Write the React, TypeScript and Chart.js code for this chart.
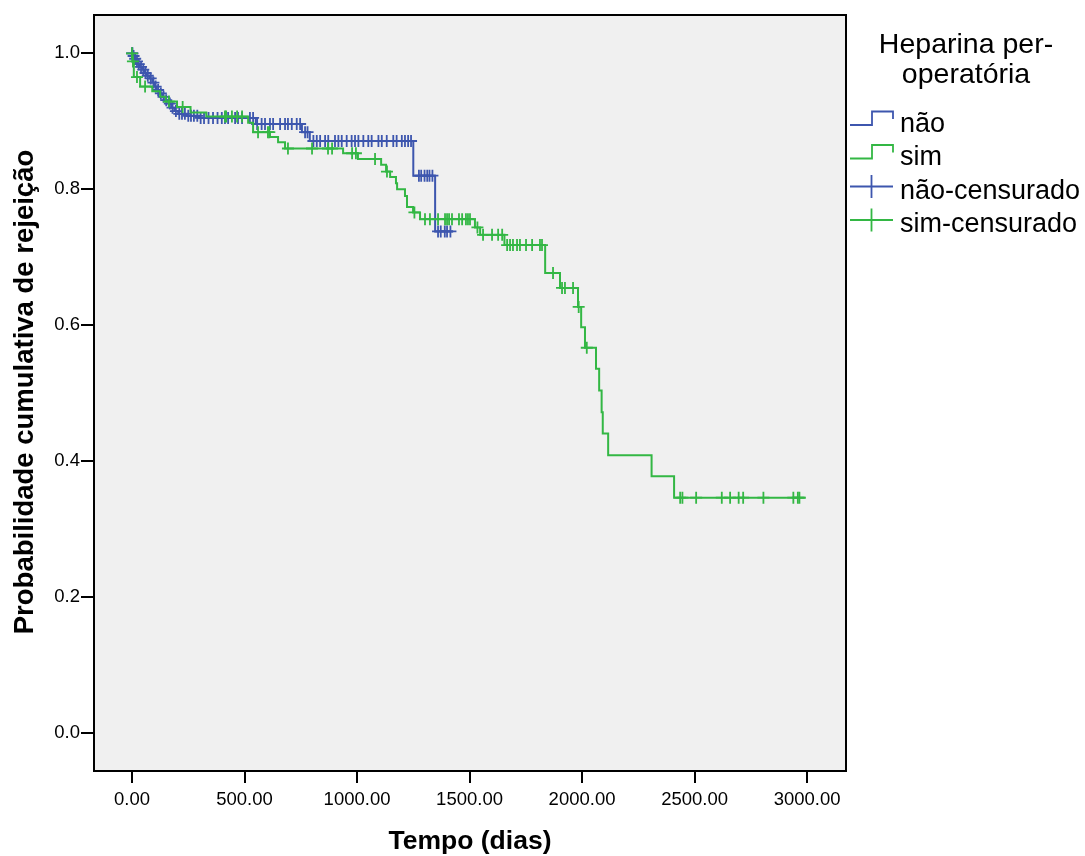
import React, { useEffect, useRef } from 'react';
import { Chart, registerables } from 'chart.js';

Chart.register(...registerables);

// ---- Data -------------------------------------------------------------
const xTicks = [0, 500, 1000, 1500, 2000, 2500, 3000];
const yTicks = [0, 0.2, 0.4, 0.6, 0.8, 1.0];

// "não" group: event times (days) and cumulative survival after each step
const naoTimes = [0, 4, 10, 18, 26, 35, 45, 55, 65, 78, 90, 100, 110, 122, 135, 148, 162, 175, 188, 205, 245, 300, 550, 755, 790, 1250, 1347, 1427];
const naoSurv = [1.0, 0.996, 0.992, 0.988, 0.984, 0.98, 0.976, 0.971, 0.967, 0.963, 0.957, 0.951, 0.946, 0.941, 0.936, 0.931, 0.926, 0.92, 0.915, 0.911, 0.908, 0.905, 0.896, 0.884, 0.871, 0.82, 0.738, 0.738];
const naoCensored = [0, 2, 7, 14, 22, 30, 40, 50, 60, 70, 83, 95, 105, 116, 128, 140, 152, 168, 180, 195, 210, 222, 235, 250, 262, 275, 290, 305, 320, 340, 360, 380, 399, 413, 427, 458, 471, 489, 524, 538, 556, 576, 591, 613, 627, 658, 680, 693, 710, 732, 747, 769, 780, 806, 821, 836, 858, 872, 902, 917, 932, 954, 976, 991, 1006, 1028, 1050, 1065, 1095, 1110, 1132, 1161, 1176, 1199, 1213, 1227, 1240, 1275, 1285, 1300, 1312, 1322, 1335, 1360, 1372, 1390, 1400, 1415];

// "sim" group
const simTimes = [0, 2, 8, 36, 90, 125, 150, 200, 260, 330, 516, 538, 613, 649, 680, 938, 1004, 1107, 1129, 1147, 1173, 1178, 1213, 1222, 1249, 1280, 1524, 1547, 1655, 1836, 1902, 1982, 1996, 2013, 2062, 2076, 2087, 2092, 2116, 2309, 2409, 2994];
const simSurv = [1.0, 0.988, 0.965, 0.951, 0.944, 0.936, 0.929, 0.921, 0.913, 0.907, 0.898, 0.884, 0.877, 0.869, 0.86, 0.853, 0.8445, 0.836, 0.826, 0.818, 0.809, 0.8, 0.79, 0.774, 0.766, 0.756, 0.744, 0.733, 0.718, 0.677, 0.655, 0.627, 0.597, 0.567, 0.536, 0.504, 0.472, 0.441, 0.409, 0.378, 0.3465, 0.3465];
const simCensored = [0, 4, 22, 58, 164, 225, 413, 418, 444, 467, 489, 560, 604, 610, 693, 800, 871, 889, 978, 995, 1080, 1133, 1255, 1302, 1324, 1360, 1391, 1400, 1409, 1422, 1453, 1467, 1484, 1493, 1502, 1535, 1560, 1600, 1627, 1645, 1667, 1680, 1693, 1711, 1724, 1751, 1778, 1813, 1822, 1871, 1911, 1924, 1960, 1985, 2021, 2436, 2446, 2507, 2621, 2658, 2696, 2716, 2806, 2939, 2959, 2966];

const xTitle = 'Tempo (dias)';
const yTitle = 'Probabilidade cumulativa de rejeição';
const legendTitle = ['Heparina per-', 'operatória'];
const legendLabels = ['não', 'sim', 'não-censurado', 'sim-censurado'];

const BLUE = '#3d56ae';
const GREEN = '#33b744';
const FONT = '"Liberation Sans", Arial, Helvetica, sans-serif';

function survAt(times: number[], surv: number[], t: number): number {
  let s = surv[0];
  for (let i = 0; i < times.length; i++) {
    if (times[i] <= t) s = surv[i];
    else break;
  }
  return s;
}

const decorPlugin = {
  id: 'decor',
  beforeDraw(chart: any) {
    const { ctx, chartArea: a } = chart;
    ctx.save();
    ctx.fillStyle = '#ffffff';
    ctx.fillRect(0, 0, chart.width, chart.height);
    ctx.fillStyle = '#f0f0f0';
    ctx.fillRect(a.left, a.top, a.right - a.left, a.bottom - a.top);
    ctx.restore();
  },
  afterDraw(chart: any) {
    const { ctx, chartArea: a } = chart;
    ctx.save();
    // plot frame
    ctx.strokeStyle = '#000';
    ctx.lineWidth = 2;
    ctx.strokeRect(a.left, a.top, a.right - a.left, a.bottom - a.top);

    // axis titles
    ctx.fillStyle = '#000';
    ctx.textAlign = 'center';
    ctx.textBaseline = 'alphabetic';
    ctx.font = `bold 26.5px ${FONT}`;
    ctx.fillText(xTitle, (a.left + a.right) / 2, 849);
    ctx.save();
    ctx.font = `bold 27.5px ${FONT}`;
    ctx.translate(33, 392);
    ctx.rotate(-Math.PI / 2);
    ctx.fillText(yTitle, 0, 0);
    ctx.restore();

    // legend
    ctx.font = `28.5px ${FONT}`;
    ctx.textAlign = 'center';
    ctx.fillText(legendTitle[0], 966, 53);
    ctx.fillText(legendTitle[1], 966, 83);

    ctx.font = `27px ${FONT}`;
    ctx.textAlign = 'left';
    const baselines = [131.5, 165, 198.5, 232];
    const colors = [BLUE, GREEN, BLUE, GREEN];
    legendLabels.forEach((lab, i) => {
      const b = baselines[i];
      ctx.strokeStyle = colors[i];
      ctx.lineWidth = 1.8;
      ctx.beginPath();
      if (i < 2) {
        const yl = b - 6.5;
        ctx.moveTo(850, yl);
        ctx.lineTo(872, yl);
        ctx.lineTo(872, yl - 13.5);
        ctx.lineTo(893, yl - 13.5);
        ctx.lineTo(893, yl - 6);
      } else {
        const yc = b - 12;
        ctx.moveTo(850, yc);
        ctx.lineTo(893, yc);
        ctx.moveTo(871.5, yc - 11.5);
        ctx.lineTo(871.5, yc + 11.5);
      }
      ctx.stroke();
      ctx.fillStyle = '#000';
      ctx.fillText(lab, 900, b);
    });
    ctx.restore();
  },
};

export default function App() {
  const ref = useRef<HTMLCanvasElement | null>(null);

  useEffect(() => {
    if (!ref.current) return;
    const naoLine = naoTimes.map((t, i) => ({ x: t, y: naoSurv[i] }));
    const simLine = simTimes.map((t, i) => ({ x: t, y: simSurv[i] }));
    const naoMarks = naoCensored.map((t) => ({ x: t, y: survAt(naoTimes, naoSurv, t) }));
    const simMarks = simCensored.map((t) => ({ x: t, y: survAt(simTimes, simSurv, t) }));

    const markDs = (label: string, data: any[], color: string) => ({
      label,
      data,
      showLine: false,
      pointStyle: 'cross',
      pointRadius: 6,
      pointHoverRadius: 6,
      borderColor: color,
      backgroundColor: color,
      borderWidth: 1.8,
    });
    const lineDs = (label: string, data: any[], color: string) => ({
      label,
      data,
      showLine: true,
      stepped: true,
      borderColor: color,
      backgroundColor: color,
      borderWidth: 2,
      pointRadius: 0,
      pointHoverRadius: 0,
      fill: false,
    });

    const chart = new Chart(ref.current, {
      type: 'line',
      data: {
        datasets: [
          markDs('sim-censurado', simMarks, GREEN),
          lineDs('sim', simLine, GREEN),
          markDs('não-censurado', naoMarks, BLUE),
          lineDs('não', naoLine, BLUE),
        ] as any,
      },
      options: {
        animation: false,
        responsive: false,
        devicePixelRatio: 1,
        layout: { padding: { top: 15, right: 239, left: 0, bottom: 0 } },
        plugins: { legend: { display: false }, tooltip: { enabled: false } },
        events: [],
        scales: {
          x: {
            type: 'linear',
            min: -169,
            max: 3173,
            afterBuildTicks: (s: any) => {
              s.ticks = xTicks.map((v) => ({ value: v }));
            },
            afterFit: (s: any) => {
              s.height = 85;
            },
            ticks: {
              callback: (v: any) => Number(v).toFixed(2),
              font: { family: FONT, size: 18.5 },
              color: '#000',
              padding: 6,
              maxRotation: 0,
              autoSkip: false,
            },
            grid: { drawOnChartArea: false, drawTicks: true, tickLength: 12, color: '#000', lineWidth: 2 },
            border: { display: true, color: '#000', width: 2 },
          },
          y: {
            type: 'linear',
            min: -0.0554,
            max: 1.0563,
            afterBuildTicks: (s: any) => {
              s.ticks = yTicks.map((v) => ({ value: v }));
            },
            afterFit: (s: any) => {
              s.width = 94;
            },
            ticks: {
              callback: (v: any) => Number(v).toFixed(1),
              font: { family: FONT, size: 18.5 },
              color: '#000',
              padding: 1,
              autoSkip: false,
            },
            grid: { drawOnChartArea: false, drawTicks: true, tickLength: 13, color: '#000', lineWidth: 2 },
            border: { display: true, color: '#000', width: 2 },
          },
        },
      } as any,
      plugins: [decorPlugin],
    });
    return () => chart.destroy();
  }, []);

  return (
    <div style={{ position: 'absolute', left: 0, top: 0, width: 1085, height: 856, background: '#fff' }}>
      <canvas ref={ref} width={1085} height={856} style={{ display: 'block', width: 1085, height: 856 }} />
    </div>
  );
}
